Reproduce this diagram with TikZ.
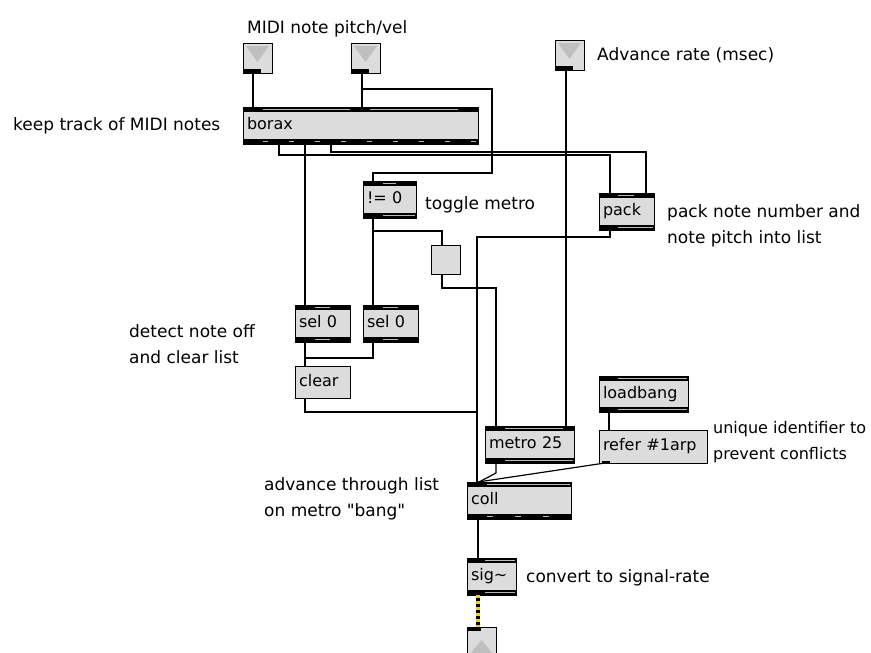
\documentclass[tikz,border=0pt]{standalone}
\usepackage{fontspec}
\setmainfont{DejaVu Sans}
\definecolor{boxgrey}{HTML}{DCDCDC}
\definecolor{cordyellow}{HTML}{F2D400}

\begin{document}
\begin{tikzpicture}[
    x=1pt, y=-1pt,
    font=\fontsize{16}{26}\selectfont,
    cord/.style={line width=1.2pt},
    sigcord/.style={line width=3.5pt, postaction={draw=cordyellow, line width=3.5pt, dash pattern=on 3pt off 3pt}},
    inset/.style={draw=gray!55, line width=1.3pt},
    maxobj/.style={
        draw, line width=1pt, fill=boxgrey, anchor=north west,
        inner sep=0pt, inner xsep=4pt, outer sep=0pt,
        text height=12pt, text depth=4pt, align=left
    },
    objbars/.style n args={4}{path picture={
        \fill[black] (path picture bounding box.north west) rectangle ([yshift=-5pt]path picture bounding box.north east);
        \fill[black] (path picture bounding box.south west) rectangle ([yshift=5pt]path picture bounding box.south east);
        \draw[inset] ([xshift=#1pt,yshift=-2.5pt]path picture bounding box.north west) -- ([xshift=-#2pt,yshift=-2.5pt]path picture bounding box.north east);
        \draw[inset] ([xshift=#3pt,yshift=2.5pt]path picture bounding box.south west) -- ([xshift=-#4pt,yshift=2.5pt]path picture bounding box.south east);
    }},
    msgbox/.style={maxobj},
    togglebox/.style={
        draw, line width=1pt, fill=boxgrey, minimum width=29pt, minimum height=29pt,
        inner sep=0pt, outer sep=0pt, anchor=north west
    },
    inletbox/.style={togglebox, minimum height=30pt, path picture={
        \fill[gray!50] ([xshift=3pt,yshift=-3pt]path picture bounding box.north west) -- ([xshift=-3pt,yshift=-3pt]path picture bounding box.north east) -- ([yshift=-19pt]path picture bounding box.north) -- cycle;
        \fill[black] (path picture bounding box.south west) rectangle ([xshift=18pt,yshift=4pt]path picture bounding box.south west);
    }},
    outletbox/.style={togglebox, minimum height=30pt, path picture={
        \fill[gray!50] ([xshift=3pt,yshift=3pt]path picture bounding box.south west) -- ([xshift=-3pt,yshift=3pt]path picture bounding box.south east) -- ([yshift=-13pt]path picture bounding box.north) -- cycle;
        \fill[black] (path picture bounding box.north west) rectangle ([xshift=14pt,yshift=-4pt]path picture bounding box.north west);
    }},
    note/.style={anchor=north west, inner sep=0pt, align=left, font=\fontsize{17}{26}\selectfont}
]
\clip (0,0) rectangle (871,653);

% Inlets and outlet
\node[inletbox] (inPitch) at (243,43) {};
\node[inletbox] (inVel) at (351,43) {};
\node[inletbox] (inRate) at (555,40) {};
\node[outletbox] (outlet) at (467,627) {};

% Objects
\node[maxobj, objbars={20}{128}{0}{235}, text width=227pt, minimum height=37pt] (borax) at (243,107) {borax};
\draw[inset] ([xshift=127pt,yshift=-2.5pt]borax.north west) -- ([xshift=-20pt,yshift=-2.5pt]borax.north east);
\draw[inset, dash pattern=on 5pt off 21pt] ([xshift=20pt,yshift=2.5pt]borax.south west) -- ([yshift=2.5pt]borax.south east);

\node[maxobj, objbars={20}{20}{20}{1}, text width=45pt, minimum height=37pt] (neq) at (363,181) {!= 0};
\node[togglebox] (toggle) at (431,245) {};
\node[maxobj, objbars={19}{20}{19}{1}, text width=47pt, minimum height=37pt] (pack) at (599,193) {pack};

\node[maxobj, objbars={20}{20}{20}{20}, text width=47pt, minimum height=37pt] (selA) at (295,305) {sel 0};
\node[maxobj, objbars={20}{20}{20}{20}, text width=47pt, minimum height=37pt] (selB) at (363,305) {sel 0};
\node[msgbox, text width=47pt, minimum height=32pt] (clear) at (295,366) {clear};

\node[maxobj, objbars={19}{1}{19}{1}, text width=81pt, minimum height=36pt] (loadbang) at (599,376) {loadbang};
\node[msgbox, text width=100pt, minimum height=33pt] (refer) at (599,430) {refer \#1arp};
\fill ([xshift=3pt]refer.south west) rectangle ([xshift=11pt,yshift=2.5pt]refer.south west);
\node[maxobj, objbars={20}{11}{20}{1}, text width=81pt, minimum height=37pt] (metro) at (485,426) {metro 25};

\node[maxobj, objbars={20}{1}{0}{104}, text width=96pt, minimum height=37pt] (coll) at (467,482) {coll};
\draw[inset, dash pattern=on 6pt off 22pt] ([xshift=20pt,yshift=2.5pt]coll.south west) -- ([xshift=-4pt,yshift=2.5pt]coll.south east);
\node[maxobj, objbars={18}{1}{18}{1}, text width=41pt, minimum height=37pt] (sig) at (467,558) {sig\textasciitilde};

% Comments
\node[note] (lblMidi) at (247,20) {MIDI note pitch/vel};
\node[note] (lblRate) at (597,47) {Advance rate (msec)};
\node[note] (lblBorax) at (13,117) {keep track of MIDI notes};
\node[note] (lblToggle) at (425,196) {toggle metro};
\node[note] (lblPack) at (667,204) {pack note number and\\note pitch into list};
\node[note] (lblSel) at (129,324) {detect note off\\and clear list};
\node[note, font=\fontsize{16}{26}\selectfont] (lblRefer) at (713,421) {unique identifier to\\prevent conflicts};
\node[note] (lblColl) at (264,477) {advance through list\\on metro \textquotedbl bang\textquotedbl};
\node[note] (lblSig) at (526,569) {convert to signal-rate};

% Patch cords
\draw[cord] ([xshift=10pt]inPitch.south west) -- ([xshift=10pt]borax.north west);
\draw[cord] ([xshift=11pt]inVel.south west) -- ([xshift=11pt]inVel.south west |- borax.north);
\draw[cord] ([xshift=11pt]inVel.south west) -- ++(0,16) -- ++(130,0) -- ++(0,84) -- ++(-119,0) -- ([xshift=10pt]neq.north west);
\draw[cord] ([xshift=11pt]inRate.south west) -- ([xshift=11pt]inRate.south west |- metro.north);
\draw[cord] ([xshift=36pt]borax.south west) -- ++(0,11) -| ([xshift=11pt]pack.north west);
\draw[cord] ([xshift=88pt]borax.south west) -- ++(0,8) -| ([xshift=-8pt]pack.north east);
\draw[cord] ([xshift=62pt]borax.south west) -- ([xshift=62pt]borax.south west |- selA.north);
\draw[cord] ([xshift=10pt]neq.south west) -- ([xshift=10pt]neq.south west |- selB.north);
\draw[cord] ([xshift=10pt]neq.south west) -- ++(0,13) -| ([xshift=11pt]toggle.north west);
\draw[cord] ([xshift=11pt]toggle.south west) -- ++(0,14) -| ([xshift=11pt]metro.north west);
\draw[cord] ([xshift=11pt]pack.south west) -- ++(0,7) -| ([xshift=10pt]coll.north west);
\draw[cord] ([xshift=10pt]selA.south west) -- ([xshift=10pt]clear.north west);
\draw[cord] ([xshift=10pt]selB.south west) -- ++(0,16) -| ([xshift=10pt]clear.north west);
\draw[cord] ([xshift=10pt]clear.south west) -- ++(0,14) -| ([xshift=10pt]coll.north west);
\draw[cord] ([xshift=11pt]metro.south west) -- ++(0,10) -- ([xshift=12pt]coll.north west);
\draw[cord] ([xshift=10pt]loadbang.south west) -- ([xshift=10pt]refer.north west);
\draw[cord] ([xshift=6pt]refer.south west) -- ([xshift=11pt]coll.north west);
\draw[cord] ([xshift=11pt]coll.south west) -- ([xshift=11pt]sig.north west);
\draw[sigcord] ([xshift=11pt]sig.south west) -- ([xshift=11pt]outlet.north west);

\end{tikzpicture}
\end{document}
